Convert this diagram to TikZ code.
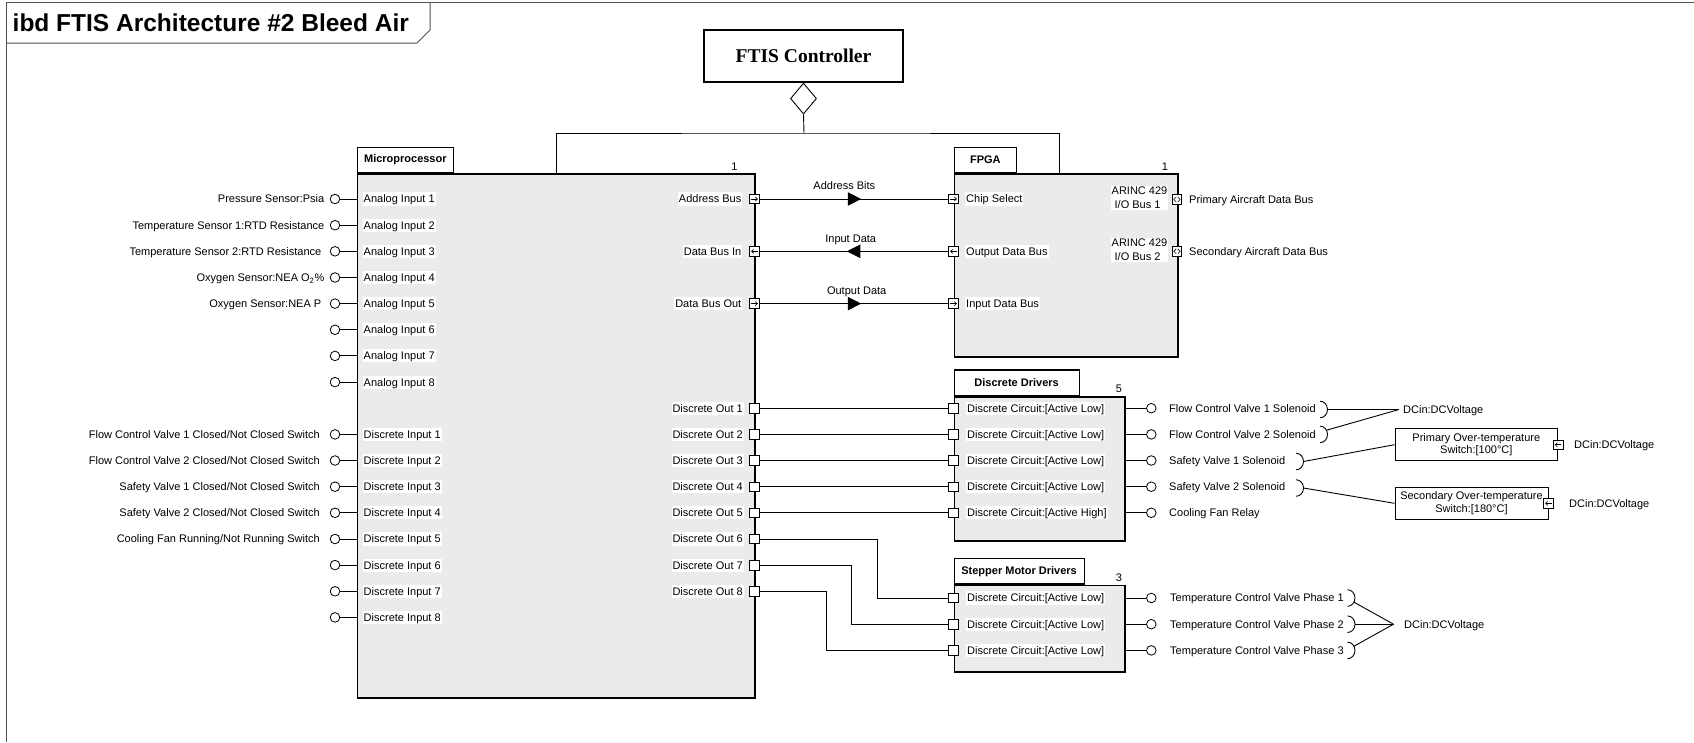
\documentclass[tikz,border=0pt]{standalone}
\usepackage{fontspec}
\setmainfont{Liberation Sans}
\newfontfamily\ctrlfont{Liberation Serif}
\usetikzlibrary{arrows.meta,shapes.geometric,decorations.markings}
\definecolor{bodygray}{RGB}{235,235,235}
\definecolor{framegray}{RGB}{80,80,80}

\begin{document}
\begin{tikzpicture}[x=1pt,y=-1pt,
  every node/.style={inner sep=0pt},
  txt/.style={font=\fontsize{11}{13}\selectfont, text height=7.9pt, text depth=0pt, inner xsep=1pt, inner ysep=2.6pt},
  plbl/.style={txt, fill=white},
  ml/.style={font=\fontsize{11}{14.3}\selectfont, fill=white, inner sep=1pt, align=left},
  body/.style={draw=black, fill=bodygray, line width=1.5pt, anchor=north west},
  tab/.style={draw=black, fill=white, line width=1.2pt, anchor=south west, font=\bfseries\fontsize{11}{13}\selectfont},
  conn/.style={line width=0.9pt, draw=black},
  lollipop/.style={circle, draw=black, fill=white, line width=0.8pt, minimum size=9.6pt},
  port/.style={rectangle, draw=black, fill=white, line width=0.7pt, minimum size=9.6pt},
  portR/.style={port, path picture={\draw[line width=0.6pt, -{Straight Barb[length=2.2pt,width=4pt]}] ([xshift=1.6pt]path picture bounding box.west) -- ([xshift=-1.4pt]path picture bounding box.east);}},
  portL/.style={port, path picture={\draw[line width=0.6pt, -{Straight Barb[length=2.2pt,width=4pt]}] ([xshift=-1.6pt]path picture bounding box.east) -- ([xshift=1.4pt]path picture bounding box.west);}},
  portB/.style={port, path picture={\draw[line width=0.6pt] ([shift={(-0.8,-2.4)}]path picture bounding box.center) -- ++(-2.4,2.4) -- ++(2.4,2.4) ([shift={(0.8,-2.4)}]path picture bounding box.center) -- ++(2.4,2.4) -- ++(-2.4,2.4);}},
  flow/.style={conn, postaction={decorate}, decoration={markings, mark=at position 101.5pt with {\arrow{Triangle[length=13.4pt,width=13.4pt]}}}},
  socket/.pic={\draw[conn] (0,-8.3) arc[start angle=-90, end angle=90, x radius=7.5, y radius=8.3];
    \coordinate (-e) at (7.5,0); \coordinate (-ne) at (6.5,-4.2); \coordinate (-se) at (6.5,4.2);},
]
\useasboundingbox (0,0) rectangle (1694,742);

% diagram frame and its name tab
\draw[framegray, line width=1pt] (6,742) -- (6,2) -- (1694,2);
\draw[framegray, line width=1pt] (6,43) -- (417,43) -- (430,30) -- (430,2);
\node[anchor=base west, font=\bfseries\fontsize{24.5}{28}\selectfont] (title) at (12.5,31.7) {ibd FTIS Architecture \#2 Bleed Air};

% controller block and composition
\node[draw, line width=1.2pt, minimum width=199pt, minimum height=52pt, font=\ctrlfont\bfseries\fontsize{19.5}{22}\selectfont] (ctrl) at (803.5,56) {FTIS Controller};
\node[diamond, draw, line width=0.9pt, fill=white, minimum width=26pt, minimum height=31pt, anchor=north] (agg) at (ctrl.south) {};
\coordinate (junc) at (804,133);
\coordinate (mpTop) at (556,173);
\coordinate (fpTop) at (1059,173);

% microprocessor part
\node[body, minimum width=397.5pt, minimum height=524pt] (mp) at (356.5,173) {};
\node[tab, minimum width=96.5pt, minimum height=25pt] (mptab) at (356.5,173) {Microprocessor};
\node[txt] (mpmult) at (734.5,166.5) {1};

% FPGA part
\node[body, minimum width=223.5pt, minimum height=183pt] (fpga) at (953.5,173) {};
\node[tab, minimum width=62.5pt, minimum height=25pt] (fpgatab) at (953.5,173) {FPGA};
\node[txt] (fpmult) at (1165,166.5) {1};

\draw[conn] (agg.south) -- (junc);
\draw[conn] (mpTop) |- (junc) -| (fpTop);

% analog inputs
\foreach \n/\y in {1/199.0,2/225.2,3/251.3,4/277.5,5/303.6,6/329.8,7/355.9,8/382.1}{
  \node[lollipop] (ai\n) at (335,\y) {};
  \draw[conn] (ai\n) -- (mp.west |- ai\n);
  \node[plbl, anchor=west] (ail\n) at (362.5,\y) {Analog Input \n};
}
% discrete inputs
\foreach \n/\y in {1/434.4,2/460.5,3/486.7,4/512.8,5/539.0,6/565.1,7/591.3,8/617.4}{
  \node[lollipop] (di\n) at (335,\y) {};
  \draw[conn] (di\n) -- (mp.west |- di\n);
  \node[plbl, anchor=west] (dil\n) at (362.5,\y) {Discrete Input \n};
}
\node[txt, anchor=east] (src1) at (325.5,199.0) {Pressure Sensor:Psia};
\node[txt, anchor=east] (src2) at (325.5,225.2) {Temperature Sensor 1:RTD Resistance};
\node[txt, anchor=east] (src3) at (322.5,251.3) {Temperature Sensor 2:RTD Resistance};
\node[txt, anchor=east] (src4) at (325.5,277.5) {Oxygen Sensor:NEA O\textsubscript{2}\%};
\node[txt, anchor=east] (src5) at (322.5,303.6) {Oxygen Sensor:NEA P};
\node[txt, anchor=east] (sw1) at (321,434.4) {Flow Control Valve 1 Closed/Not Closed Switch};
\node[txt, anchor=east] (sw2) at (321,460.5) {Flow Control Valve 2 Closed/Not Closed Switch};
\node[txt, anchor=east] (sw3) at (321,486.7) {Safety Valve 1 Closed/Not Closed Switch};
\node[txt, anchor=east] (sw4) at (321,512.8) {Safety Valve 2 Closed/Not Closed Switch};
\node[txt, anchor=east] (sw5) at (321,539.0) {Cooling Fan Running/Not Running Switch};

% microprocessor bus ports
\node[portR] (pAB) at (754.5,199.0) {};
\node[portL] (pDI) at (754.5,251.3) {};
\node[portR] (pDO) at (754.5,303.6) {};
\node[plbl, anchor=east] (pABl) at (742.5,199.0) {Address Bus};
\node[plbl, anchor=east] (pDIl) at (742.5,251.3) {Data Bus In};
\node[plbl, anchor=east] (pDOl) at (742.5,303.6) {Data Bus Out};
\foreach \n/\y in {1/408.2,2/434.4,3/460.5,4/486.7,5/512.8,6/539.0,7/565.1,8/591.3}{
  \node[port] (do\n) at (754.5,\y) {};
  \node[plbl, anchor=east] (dol\n) at (744,\y) {Discrete Out \n};
}

% FPGA ports
\node[portR] (fCS) at (953.5,199.0) {};
\node[portL] (fOD) at (953.5,251.3) {};
\node[portR] (fID) at (953.5,303.6) {};
\node[plbl, anchor=west] (fCSl) at (965,199.0) {Chip Select};
\node[plbl, anchor=west] (fODl) at (965,251.3) {Output Data Bus};
\node[plbl, anchor=west] (fIDl) at (965,303.6) {Input Data Bus};
\node[portB] (fA1) at (1177,199.5) {};
\node[portB] (fA2) at (1177,251.3) {};
\node[ml, anchor=east] (fA1l) at (1168.5,198) {ARINC 429\\\hspace*{3pt}I/O Bus 1};
\node[ml, anchor=east] (fA2l) at (1168.5,250) {ARINC 429\\\hspace*{3pt}I/O Bus 2};
\node[txt, anchor=west] (bus1) at (1188,199.5) {Primary Aircraft Data Bus};
\node[txt, anchor=west] (bus2) at (1188,251.3) {Secondary Aircraft Data Bus};

% data flows between processor and FPGA
\draw[flow] (pAB.east) -- (fCS.west);
\draw[flow] (fOD.west) -- (pDI.east);
\draw[flow] (pDO.east) -- (fID.west);
\node[txt] (fAB) at (844.3,185.7) {Address Bits};
\node[txt] (fIDt) at (850.7,238.3) {Input Data};
\node[txt] (fODt) at (856.7,290.7) {Output Data};

% discrete drivers
\node[body, minimum width=170.5pt, minimum height=144pt] (dd) at (953.5,396) {};
\node[tab, minimum width=125pt, minimum height=25.5pt] (ddtab) at (953.5,396) {Discrete Drivers};
\node[txt] (ddmult) at (1119,389) {5};
\foreach \n/\y/\lvl in {1/408.2/Low,2/434.4/Low,3/460.5/Low,4/486.7/Low,5/512.8/High}{
  \node[port] (dd\n) at (953.5,\y) {};
  \node[plbl, anchor=west] (ddl\n) at (966,\y) {Discrete Circuit:[Active \lvl]};
  \draw[conn] (do\n.east) -- (dd\n.west);
  \node[lollipop] (ddo\n) at (1151.3,\y) {};
  \draw[conn] (dd.east |- ddo\n) -- (ddo\n);
}
\node[txt, anchor=west] (ld1) at (1168,408.2) {Flow Control Valve 1 Solenoid};
\node[txt, anchor=west] (ld2) at (1168,434.4) {Flow Control Valve 2 Solenoid};
\node[txt, anchor=west] (ld3) at (1168,460.5) {Safety Valve 1 Solenoid};
\node[txt, anchor=west] (ld4) at (1168,486.7) {Safety Valve 2 Solenoid};
\node[txt, anchor=west] (ld5) at (1168,512.8) {Cooling Fan Relay};
\pic (sk1) at (1320,409.5) {socket};
\pic (sk2) at (1320,434.4) {socket};
\pic (sk3) at (1296,461.5) {socket};
\pic (sk4) at (1296,488) {socket};
\coordinate (dcA) at (1399,409.5);
\node[txt, anchor=west] (dcAl) at (1402,409.5) {DCin:DCVoltage};
\draw[conn] (sk1-e) -- (dcA);
\draw[conn] (sk2-ne) -- (dcA);

% over-temperature switches
\node[draw, line width=1pt, fill=white, minimum width=162.5pt, minimum height=32.5pt, align=center, font=\fontsize{11}{12.7}\selectfont] (pot) at (1476.3,444.7) {Primary Over-temperature\\Switch:[100°C]};
\node[portL] (potp) at (pot.east) {};
\node[txt, anchor=west] (potl) at (1573,444.7) {DCin:DCVoltage};
\node[draw, line width=1pt, fill=white, minimum width=153pt, minimum height=32pt, align=center, font=\fontsize{11}{12.7}\selectfont] (sot) at (1471.5,503.3) {Secondary Over-temperature\\Switch:[180°C]};
\node[portL] (sotp) at (sot.east) {};
\node[txt, anchor=west] (sotl) at (1568,503.3) {DCin:DCVoltage};
\draw[conn] (sk3-e) -- (pot.west);
\draw[conn] (sk4-e) -- (sot.west);

% stepper motor drivers
\node[body, minimum width=170.5pt, minimum height=86.5pt] (sm) at (953.5,584.5) {};
\node[tab, minimum width=130pt, minimum height=25.5pt] (smtab) at (953.5,584.5) {Stepper Motor Drivers};
\node[txt] (smmult) at (1119,578) {3};
\foreach \n/\y in {1/598.0,2/624.2,3/650.4}{
  \node[port] (sm\n) at (953.5,\y) {};
  \node[plbl, anchor=west] (sml\n) at (966,\y) {Discrete Circuit:[Active Low]};
  \node[lollipop] (smo\n) at (1151.3,\y) {};
  \draw[conn] (sm.east |- smo\n) -- (smo\n);
  \node[txt, anchor=west] (lp\n) at (1169,\y) {Temperature Control Valve Phase \n};
  \pic (ps\n) at (1347.5,\y) {socket};
}
\draw[conn] (do6.east) -- ++(117.4,0) |- (sm1.west);
\draw[conn] (do7.east) -- ++(91.4,0) |- (sm2.west);
\draw[conn] (do8.east) -- ++(66.7,0) |- (sm3.west);
\coordinate (dcB) at (1393.5,624.2);
\node[txt, anchor=west] (dcBl) at (1403,624.2) {DCin:DCVoltage};
\draw[conn] (ps1-se) -- (dcB);
\draw[conn] (ps2-e) -- (dcB);
\draw[conn] (ps3-ne) -- (dcB);
\end{tikzpicture}
\end{document}
